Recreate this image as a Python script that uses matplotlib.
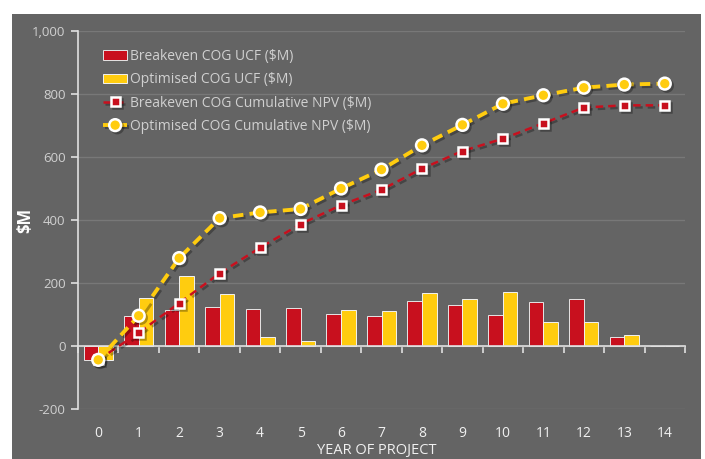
import matplotlib
matplotlib.use("Agg")
import matplotlib.pyplot as plt
import matplotlib.patheffects as pe
from matplotlib.patches import Rectangle
import numpy as np

plt.rcParams['font.family'] = ['Open Sans', 'DejaVu Sans']

years = list(range(15))
year_labels = [str(y) for y in years]
be_ucf = [-45, 96, 113, 125, 117, 122, 102, 94, 143, 131, 99, 141, 148, 30, 1]
opt_ucf = [-43, 153, 223, 164, 28, 16, 113, 111, 169, 149, 171, 75, 75, 35, 1]
be_npv = [-44, 42, 136, 231, 312, 387, 447, 496, 563, 619, 658, 707, 757, 764, 764]
opt_npv = [-44, 96, 279, 406, 424, 435, 500, 560, 637, 702, 769, 796, 820, 830, 833]
y_ticks = [-200, 0, 200, 400, 600, 800, 1000]
y_tick_labels = ['-200', '0', '200', '400', '600', '800', '1,000']

RED = '#C8101E'
YEL = '#FFCC0F'
BG = '#646464'
TXT = '#D0D0D0'

fig = plt.figure(figsize=(7.05, 4.59), dpi=100)
fig.patch.set_facecolor('white')
fig.patches.append(Rectangle((12/705, 0), (701-12)/705, (459-14)/459,
                             transform=fig.transFigure, facecolor=BG,
                             edgecolor='none', zorder=-10))

ax = fig.add_axes([78/705, 1-409/459, (685-78)/705, (409-31)/459])
ax.set_zorder(5)
ax.set_facecolor('none')
x = np.array(years)
w = 0.36
b1 = ax.bar(x - 0.18, be_ucf, width=w, color=RED, edgecolor='#E6E6E6', linewidth=0.7,
            label='Breakeven COG UCF (\\$M)', zorder=3)
b2 = ax.bar(x + 0.18, opt_ucf, width=w, color=YEL, edgecolor='#F2F2F2', linewidth=0.7,
            label='Optimised COG UCF (\\$M)', zorder=3)

shadow = [pe.SimpleLineShadow(offset=(1.5, -1.5), shadow_color='black', alpha=0.3), pe.Normal()]
l1, = ax.plot(x, be_npv, color=RED, linestyle=(0, (3, 2)), linewidth=1.8,
              marker='s', markersize=6.5, markerfacecolor=RED, markeredgecolor='white',
              markeredgewidth=1.8, label='Breakeven COG Cumulative NPV (\\$M)', zorder=5,
              path_effects=shadow)
l2, = ax.plot(x, opt_npv, color=YEL, linestyle=(0, (2.7, 1.6)), linewidth=2.8,
              marker='o', markersize=8.5, markerfacecolor=YEL, markeredgecolor='white',
              markeredgewidth=1.8, label='Optimised COG Cumulative NPV (\\$M)', zorder=6,
              path_effects=shadow)

ax.set_xlim(-0.5, 14.5)
ax.set_ylim(-200, 1000)
ax.set_yticks(y_ticks)
ax.set_yticklabels(y_tick_labels)
ax.grid(axis='y', color='#787878', linewidth=1.0, zorder=1)
ax.set_axisbelow(True)

for s in ['top', 'right']:
    ax.spines[s].set_visible(False)
ax.spines['left'].set_color('#E0E0E0')
ax.spines['left'].set_linewidth(1.2)
ax.spines['bottom'].set_position(('data', 0))
ax.spines['bottom'].set_color('#E0E0E0')
ax.spines['bottom'].set_linewidth(1.2)
ax.spines['bottom'].set_zorder(4)

ax.tick_params(axis='y', colors='#E0E0E0', labelcolor=TXT, length=5, width=1.2,
               labelsize=9.5, pad=4)
ax.set_xticks(x)
ax.tick_params(axis='x', which='major', length=0, labelbottom=False)
ax.set_xticks(np.arange(-0.5, 15, 1), minor=True)
ax.tick_params(axis='x', which='minor', length=5, width=1.2, color='#E0E0E0',
               direction='out')

sec = ax.secondary_xaxis('bottom')
sec.set_xticks(x)
sec.set_xticklabels(year_labels)
sec.tick_params(axis='x', length=0, labelsize=10, labelcolor='#F0F0F0', pad=12)
sec.spines['bottom'].set_visible(False)

ax.set_ylabel('\\$M', color='white', fontsize=12, fontweight='bold')
ax.yaxis.set_label_coords(-44/607, 0.5)

fig.text(377/705, 1/459, 'YEAR OF PROJECT', color='#F0F0F0', fontsize=10.5,
         ha='center', va='bottom')

leg = ax.legend(handles=[b1, b2, l1, l2], loc='upper left',
                bbox_to_anchor=(25/607, (409-49)/378),
                frameon=False, fontsize=10, labelcolor=TXT, handlelength=1.75,
                handletextpad=0.2, labelspacing=0.6, borderpad=0, borderaxespad=0)

fig.savefig('out.png', dpi=100, facecolor='white')
